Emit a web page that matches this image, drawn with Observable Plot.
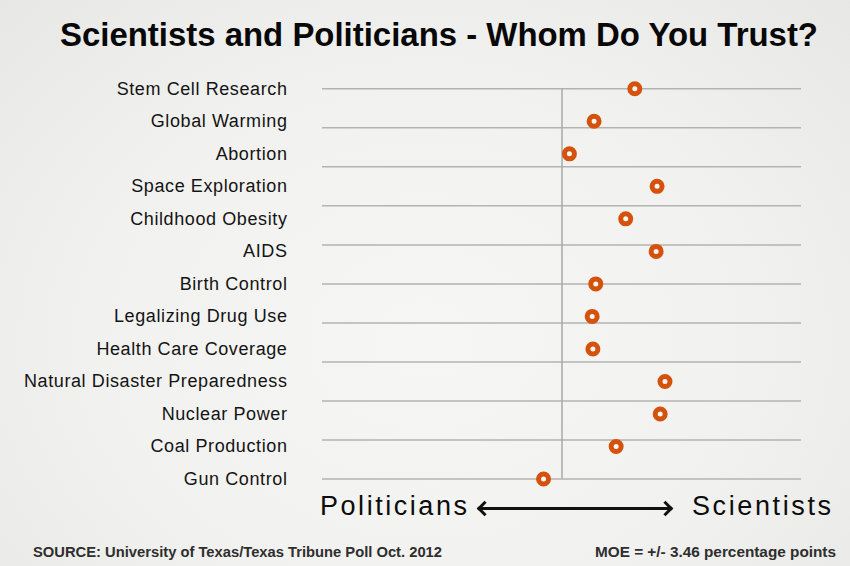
<!DOCTYPE html>
<html><head><meta charset="utf-8">
<script src="https://cdn.jsdelivr.net/npm/d3@7"></script>
<script src="https://cdn.jsdelivr.net/npm/@observablehq/plot@0.6"></script>
<style>
html,body{margin:0;padding:0;}
body{width:850px;height:566px;overflow:hidden;
  background:radial-gradient(ellipse at 50% 60%, #f6f6f4 0%, #f1f1ef 55%, #e7e7e5 100%);}
#wrap{position:relative;width:850px;height:566px;}
.abs{position:absolute;white-space:nowrap;line-height:1;transform-origin:0 0;}
#title{left:60px;top:18.3px;font-weight:bold;font-size:33.5px;font-family:"Liberation Sans Narrow","Liberation Sans",Arial,sans-serif;color:#080808;}
#chart{position:absolute;left:0;top:60px;}
.side{font-size:27px;font-family:"Liberation Sans",Arial,sans-serif;color:#0c0c0c;top:493.1px;}
#pol{left:320px;}
#sci{left:692px;}
.foot{font-weight:bold;font-size:14px;font-family:"Liberation Sans Narrow","Liberation Sans",Arial,sans-serif;color:#2e2e2e;top:544.9px;}
#src{left:33px;}
#moe{left:595px;}
#arrow{position:absolute;left:478px;top:507px;width:194px;height:3px;background:#111;}
#arrow::before,#arrow::after{content:'';position:absolute;box-sizing:border-box;width:11px;height:11px;top:-4px;border:0 solid #111;transform:rotate(45deg);}
#arrow::before{left:1px;border-left-width:3px;border-bottom-width:3px;}
#arrow::after{right:1px;border-right-width:3px;border-top-width:3px;}
</style>
</head>
<body>
<div id="wrap">
  <div id="title" class="abs">Scientists and Politicians - Whom Do You Trust?</div>
  <div id="chart"></div>
  <div id="pol" class="abs side">Politicians</div>
  <div id="arrow"></div>
  <div id="sci" class="abs side">Scientists</div>
  <div id="src" class="abs foot">SOURCE: University of Texas/Texas Tribune Poll Oct. 2012</div>
  <div id="moe" class="abs foot">MOE = +/- 3.46 percentage points</div>
</div>
<script>
// Topics, top to bottom
const topics = [
  "Stem Cell Research", "Global Warming", "Abortion", "Space Exploration",
  "Childhood Obesity", "AIDS", "Birth Control", "Legalizing Drug Use",
  "Health Care Coverage", "Natural Disaster Preparedness", "Nuclear Power",
  "Coal Production", "Gun Control"
];
// Net trust (negative = politicians, positive = scientists), estimated
const netTrust = [30.4, 13.4, 3.1, 39.7, 26.6, 39.3, 14.1, 12.6, 12.9, 43.0, 41.0, 22.6, -7.7];

const data = topics.map((topic, i) => ({topic, index: i, value: netTrust[i]}));
const gridY = d3.range(11).map(i => i * (topics.length - 1) / 10);

const chart = Plot.plot({
  width: 850,
  height: 440,
  marginTop: 28.3,
  marginBottom: 21.5,
  marginLeft: 322,
  marginRight: 49,
  style: {background: "transparent", overflow: "visible"},
  x: {domain: [-100, 100], axis: null},
  y: {domain: [0, topics.length - 1], reverse: true, axis: null},
  marks: [
    Plot.ruleY(gridY, {stroke: "#b3b3b3", strokeWidth: 1.5}),
    Plot.ruleX([0], {stroke: "#a9a9a9", strokeWidth: 1.5}),
    Plot.dot(data, {x: "value", y: "index", r: 5, stroke: "#d4520c", strokeWidth: 5, fill: "#f6f6f4"}),
    Plot.text(data, {
      y: "index", text: "topic", frameAnchor: "left", textAnchor: "end", dx: -35,
      fontSize: 18, fill: "#141414", fontFamily: "Liberation Sans, Arial, sans-serif"
    })
  ]
});
chart.querySelectorAll("text").forEach(t => t.style.letterSpacing = "0.6px");
document.getElementById("chart").appendChild(chart);

function fitScale(id, w) {
  const el = document.getElementById(id);
  const r = el.getBoundingClientRect();
  el.style.transform = `scaleX(${w / r.width})`;
}
function fitSpacing(id, w) {
  const el = document.getElementById(id);
  const n = el.textContent.length;
  const r = el.getBoundingClientRect();
  el.style.letterSpacing = ((w - r.width) / (n - 1)) + "px";
}
fitScale("title", 758);
fitScale("src", 409);
fitScale("moe", 241);
fitSpacing("pol", 147);
fitSpacing("sci", 139);
</script>
</body></html>
